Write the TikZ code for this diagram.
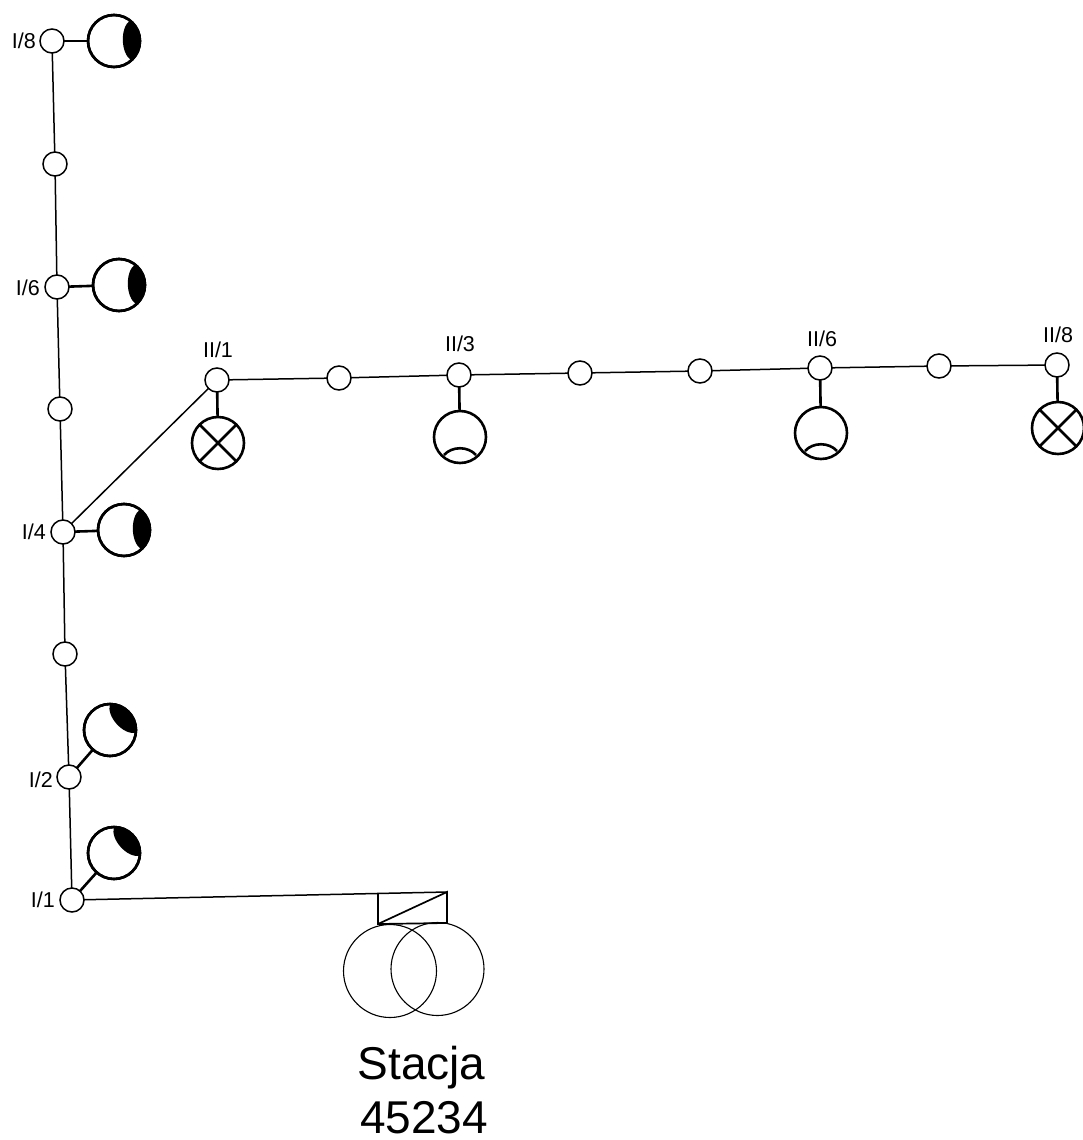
\documentclass[tikz,border=0pt]{standalone}
\usepackage{fontspec}
\setmainfont{Liberation Sans}
\usetikzlibrary{calc}
\tikzset{
  x=1pt,y=-1pt,
  joint/.style={circle,draw=black,fill=white,line width=1.5pt,minimum size=24pt,inner sep=0pt,outer sep=0pt},
  lamp/.style={circle,draw=black,fill=white,line width=2.6pt,minimum size=52pt,inner sep=0pt,outer sep=0pt},
  mainline/.style={line width=1.5pt,draw=black},
  stub/.style={line width=2.6pt,draw=black},
  tick/.style={font=\fontsize{21.5}{24}\selectfont,inner sep=0pt},
  coil/.style={circle,draw=black,line width=1.1pt,minimum size=93pt,inner sep=0pt},
  big/.style={font=\fontsize{46}{50}\selectfont,inner sep=0pt,anchor=base}
}
% crescent: node, mid direction, half-width of arc in degrees
\newcommand{\crescent}[3]{%
  \fill[black] (#1) ++(#2+#3:26) arc[start angle=#2+#3,end angle=#2-#3,radius=26]
    .. controls ($(#1)+(#2:6.2)+(#2-90:13)$) and ($(#1)+(#2:6.2)+(#2+90:13)$) .. cycle;}
\newcommand{\crossmark}[1]{%
  \draw[stub] (#1.45) -- (#1.225);
  \draw[stub] (#1.135) -- (#1.315);}
\newcommand{\arcmark}[1]{%
  \draw[stub] ($(#1)+(-16,18)$) .. controls ($(#1)+(-8,9)$) and ($(#1)+(8,9)$) .. ($(#1)+(16,18)$);}
\begin{document}
\begin{tikzpicture}
\useasboundingbox (0,0) rectangle (1082,1140);
% lamps
\node[lamp] (L8) at (114,41) {};
\node[lamp] (L6) at (119,285) {};
\node[lamp] (L4) at (124,530) {};
\node[lamp] (L2) at (110,730) {};
\node[lamp] (L1) at (114,853) {};
\node[lamp] (M1) at (218,443) {};
\node[lamp] (M3) at (460,437) {};
\node[lamp] (M6) at (821,433) {};
\node[lamp] (M8) at (1058,428) {};
\crescent{L8}{-2}{50}
\crescent{L6}{-2}{50}
\crescent{L4}{-2}{50}
\crescent{L2}{-42}{48}
\crescent{L1}{-42}{48}
\crossmark{M1}
\crossmark{M8}
\arcmark{M3}
\arcmark{M6}
\draw[black,line width=2.6pt] (L8) circle[radius=26];
\draw[black,line width=2.6pt] (L6) circle[radius=26];
\draw[black,line width=2.6pt] (L4) circle[radius=26];
\draw[black,line width=2.6pt] (L2) circle[radius=26];
\draw[black,line width=2.6pt] (L1) circle[radius=26];
% joints
\node[joint] (A8) at (52,41) {};
\node[joint] (A7) at (55,164) {};
\node[joint] (A6) at (57,287) {};
\node[joint] (A5) at (60,409) {};
\node[joint] (A4) at (63,532) {};
\node[joint] (A3) at (65,654) {};
\node[joint] (A2) at (69,777) {};
\node[joint] (A1) at (72,900) {};
\node[joint] (B1) at (217,380) {};
\node[joint] (B2) at (339,378) {};
\node[joint] (B3) at (459,375) {};
\node[joint] (B4) at (580,373) {};
\node[joint] (B5) at (700,371) {};
\node[joint] (B6) at (820,368) {};
\node[joint] (B7) at (939,366) {};
\node[joint] (B8) at (1057,365) {};
% main lines
\draw[mainline] (A8)--(A7);
\draw[mainline] (A7)--(A6);
\draw[mainline] (A6)--(A5);
\draw[mainline] (A5)--(A4);
\draw[mainline] (A4)--(A3);
\draw[mainline] (A3)--(A2);
\draw[mainline] (A2)--(A1);
\draw[mainline] (A4)--(B1);
\draw[mainline] (B1)--(B2);
\draw[mainline] (B2)--(B3);
\draw[mainline] (B3)--(B4);
\draw[mainline] (B4)--(B5);
\draw[mainline] (B5)--(B6);
\draw[mainline] (B6)--(B7);
\draw[mainline] (B7)--(B8);
% stubs
\draw[stub] (A8)--(L8);
\draw[stub] (A6)--(L6);
\draw[stub] (A4)--(L4);
\draw[stub] (A2)--(L2);
\draw[stub] (A1)--(L1);
\draw[stub] (B1)--(M1);
\draw[stub] (B3)--(M3);
\draw[stub] (B6)--(M6);
\draw[stub] (B8)--(M8);
% transformer
\coordinate (TA) at (447,892);
\coordinate (TL) at (378,893);
\coordinate (TB) at (447,923);
\coordinate (TC) at (378,924);
\draw[mainline] (A1)--(TA);
\node[coil] (C1) at (390,971) {};
\node[coil] (C2) at (437.5,969) {};
\draw[line width=1.7pt] (TL)--(TC)--(TB)--(TA)--(TC);
% labels
\node[tick,anchor=east] (t8) at (36,41) {I/8};
\node[tick,anchor=east] (t6) at (40,288) {I/6};
\node[tick,anchor=east] (t4) at (46,532) {I/4};
\node[tick,anchor=east] (t2) at (53,780) {I/2};
\node[tick,anchor=east] (t1) at (55,900) {I/1};
\node[tick] (u1) at (218,350) {II/1};
\node[tick] (u3) at (460,344) {II/3};
\node[tick] (u6) at (822,339) {II/6};
\node[tick] (u8) at (1058,335) {II/8};
\node[big] (s1) at (421.5,1079) {Stacja};
\node[big] (s2) at (424,1133) {45234};
\end{tikzpicture}
\end{document}
